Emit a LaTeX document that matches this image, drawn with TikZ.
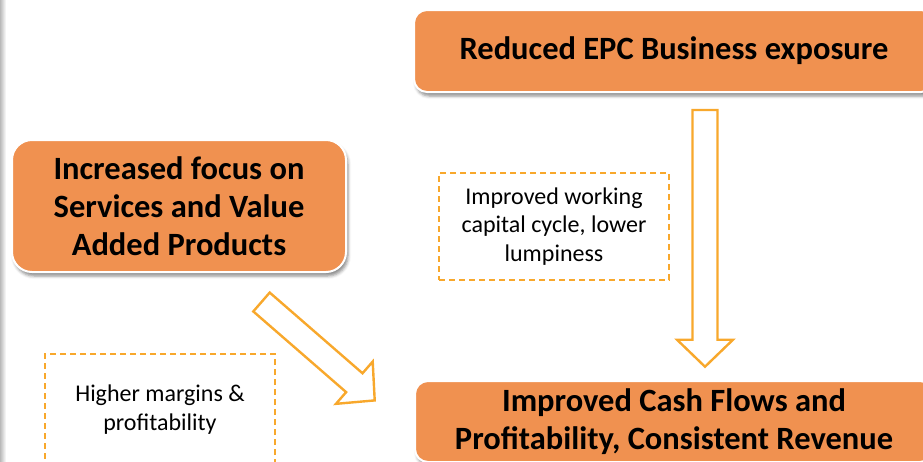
\documentclass[tikz,border=0pt]{standalone}
\usepackage{fontspec}
\setmainfont{Carlito}
\usetikzlibrary{shadows.blur}

\definecolor{boxorange}{RGB}{240,145,80}
\definecolor{lineorange}{RGB}{248,168,44}

\tikzset{
  mainbox/.style={rectangle, rounded corners=13pt, fill=boxorange, draw=white,
    line width=2pt, align=center, font=\fontsize{32.5}{38}\selectfont\bfseries,
    blur shadow={shadow xshift=2pt, shadow yshift=-4pt, shadow blur radius=3pt, shadow opacity=45}},
  notebox/.style={rectangle, draw=lineorange, line width=1.6pt, dash pattern=on 6pt off 4pt,
    align=center, font=\fontsize{24}{28.5}\selectfont},
  hollow/.style={draw=lineorange, line width=2.4pt, fill=white, line join=miter}
}

\begin{document}
\begin{tikzpicture}[x=1pt, y=-1pt]
\useasboundingbox (0,0) rectangle (923,461);
\def \shaft {12.5}
\def \head {28}
\def \headlen {27}

% faint edge on the left
\shade[left color=gray!55, right color=white] (0,0) rectangle (6,461);

% the three main boxes
\node (epc) [mainbox, minimum width=520pt, minimum height=82pt] at (674,51) {Reduced EPC Business exposure};
\node (focus) [mainbox, rounded corners=20pt, minimum width=334pt, minimum height=132pt] at (179,206)
  {Increased focus on\\ Services and Value\\ Added Products};
\node (cash) [mainbox, minimum width=518pt, minimum height=81pt] at (674,421.5)
  {\raisebox{-3pt}{Improved Cash Flows and}\\ \raisebox{-3pt}{Profitability, Consistent Revenue}};

% dashed notes
\node (wc) [notebox, minimum width=230pt, minimum height=107pt] at (554,226.5)
  {Improved working\\ capital cycle, lower\\ lumpiness};
\node (margin) [notebox, minimum width=230pt, minimum height=111pt] at (160,409.5)
  {Higher margins \&\\ profitability};

% hollow block arrows
\foreach \x/\y/\ang/\len in {705/110/-90/256.7, 261.5/302/-41/150}
  \draw[hollow, shift={(\x,\y)}, rotate=\ang]
    (0,-\shaft) -- (\len-\headlen,-\shaft) -- (\len-\headlen,-\head) -- (\len,0)
    -- (\len-\headlen,\head) -- (\len-\headlen,\shaft) -- (0,\shaft) -- cycle;

\end{tikzpicture}
\end{document}
